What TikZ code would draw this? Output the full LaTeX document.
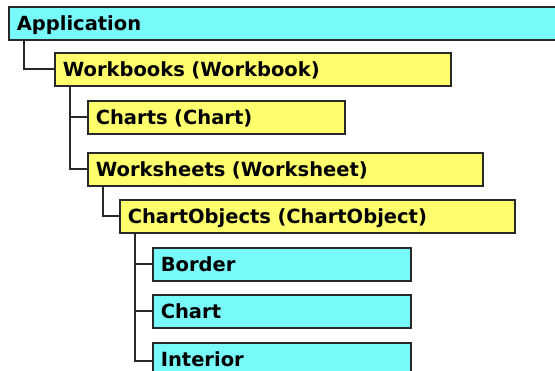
\documentclass[tikz,border=0pt]{standalone}
\usepackage{fontspec}
\setmainfont{DejaVu Sans}
\definecolor{boxcyan}{RGB}{120,250,250}
\definecolor{boxyellow}{RGB}{255,255,110}
\definecolor{edge}{RGB}{40,40,40}
\tikzset{
  objbox/.style={draw=edge, line width=1.6pt, rectangle, anchor=north west,
    inner xsep=8pt, inner ysep=0pt, minimum height=33pt,
    text height=14pt, text depth=0pt, align=left,
    font=\fontsize{19.5}{20}\selectfont\bfseries},
  cyanbox/.style={objbox, fill=boxcyan},
  yellowbox/.style={objbox, fill=boxyellow},
  link/.style={draw=edge, line width=2pt}
}
\begin{document}
\begin{tikzpicture}[x=1pt,y=-1pt]
\useasboundingbox (0,0) rectangle (555,370);
\clip (0,0) rectangle (555,370);
\node[cyanbox, text width=554pt] (app) at (8,6) {Application};
\node[yellowbox, text width=380pt] (wb) at (54,52) {Workbooks (Workbook)};
\node[yellowbox, text width=241pt] (charts) at (87,100) {Charts (Chart)};
\node[yellowbox, text width=379pt] (ws) at (87,152) {Worksheets (Worksheet)};
\node[yellowbox, text width=379pt] (co) at (119,199) {ChartObjects (ChartObject)};
\node[cyanbox, text width=242pt] (border) at (152,247) {Border};
\node[cyanbox, text width=242pt] (chart) at (152,294) {Chart};
\node[cyanbox, text width=242pt] (interior) at (152,342) {Interior};
\draw[link] ([xshift=16pt]app.south west) |- (wb.west);
\draw[link] ([xshift=16pt]wb.south west) |- (charts.west);
\draw[link] ([xshift=16pt]wb.south west) |- (ws.west);
\draw[link] ([xshift=16pt]ws.south west) |- (co.west);
\draw[link] ([xshift=16pt]co.south west) |- (border.west);
\draw[link] ([xshift=16pt]co.south west) |- (chart.west);
\draw[link] ([xshift=16pt]co.south west) |- ([yshift=-2pt]interior.west);
\end{tikzpicture}
\end{document}
